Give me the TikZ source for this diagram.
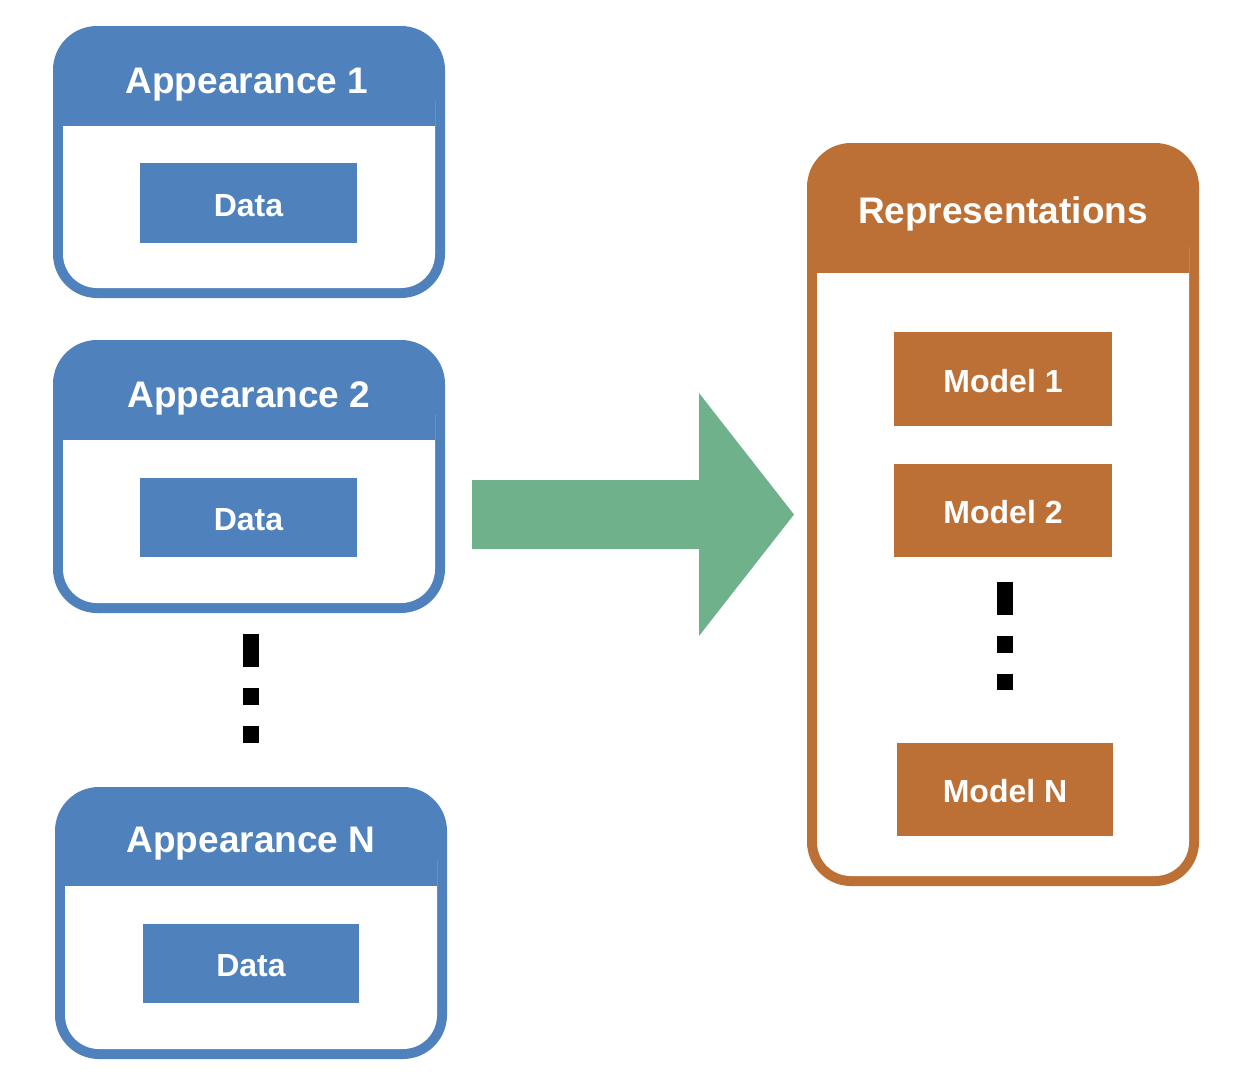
\documentclass[tikz,border=0pt]{standalone}
\usepackage{fontspec}
\setmainfont{Liberation Sans}
\definecolor{pblue}{RGB}{79,129,189}
\definecolor{porange}{RGB}{189,112,54}
\definecolor{pgreen}{RGB}{110,177,139}
% #1 name, #2 x1, #3 y1, #4 x2, #5 y2, #6 header bottom, #7 colour
\newcommand\mypanel[7]{%
  \node[fill=#7, rounded corners=44pt, inner sep=0pt, minimum width={#4-#2}, minimum height={#5-#3}]
    (#1) at ({(#2+#4)/2},{(#3+#5)/2}) {};
  \fill[white, rounded corners=34pt] (#2+10,#6-60) rectangle (#4-10,#5-10);
  \fill[#7] (#2+10,#6-62) rectangle (#4-10,#6);
}
\begin{document}
\begin{tikzpicture}[x=1pt,y=-1pt,
  inbox/.style={inner sep=0pt, text=white, text height=26.5pt, text depth=0pt, font=\fontsize{32}{38}\selectfont\bfseries},
  bluebox/.style={inbox, fill=pblue},
  orangebox/.style={inbox, fill=porange},
  paneltitle/.style={inner sep=0pt, anchor=base, text=white, font=\fontsize{37}{44}\selectfont\bfseries},
  dotbox/.style={fill=black}]
\useasboundingbox (0,0) rectangle (1250,1084);

% left panels
\mypanel{app1}{53}{26}{445}{298}{126}{pblue}
\node[paneltitle] (t1) at (247,93) {Appearance 1};
\node[bluebox, minimum width=217, minimum height=80] (d1) at (248.5,203) {Data};

\mypanel{app2}{53}{340}{445}{613}{440}{pblue}
\node[paneltitle] (t2) at (249,407) {Appearance 2};
\node[bluebox, minimum width=217, minimum height=79] (d2) at (248.5,517.5) {Data};

\mypanel{appN}{55}{787}{447}{1059}{886}{pblue}
\node[paneltitle] (tN) at (251,852) {Appearance N};
\node[bluebox, minimum width=216, minimum height=79] (dN) at (251,963.5) {Data};

% left dots
\fill[dotbox] (243,634) rectangle (259,667);
\fill[dotbox] (243,688) rectangle (259,705);
\fill[dotbox] (243,726) rectangle (259,743);

% right panel
\mypanel{rep}{807}{143}{1199}{886}{273}{porange}
\node[paneltitle] (tr) at (1003,223) {Representations};
\node[orangebox, minimum width=218, minimum height=94] (m1) at (1003,379) {Model 1};
\node[orangebox, minimum width=218, minimum height=93] (m2) at (1003,510.5) {Model 2};
\node[orangebox, minimum width=216, minimum height=93] (mN) at (1005,789.5) {Model N};

% right dots
\fill[dotbox] (997,582) rectangle (1013,615);
\fill[dotbox] (997,636) rectangle (1013,653);
\fill[dotbox] (997,674) rectangle (1013,690);

% big arrow
\coordinate (arrS) at (472,514.5);
\coordinate (arrT) at (794,514.5);
\fill[pgreen] (472,480) -- (699,480) -- (699,393) -- (arrT) -- (699,636) -- (699,549) -- (472,549) -- cycle;
\end{tikzpicture}
\end{document}
